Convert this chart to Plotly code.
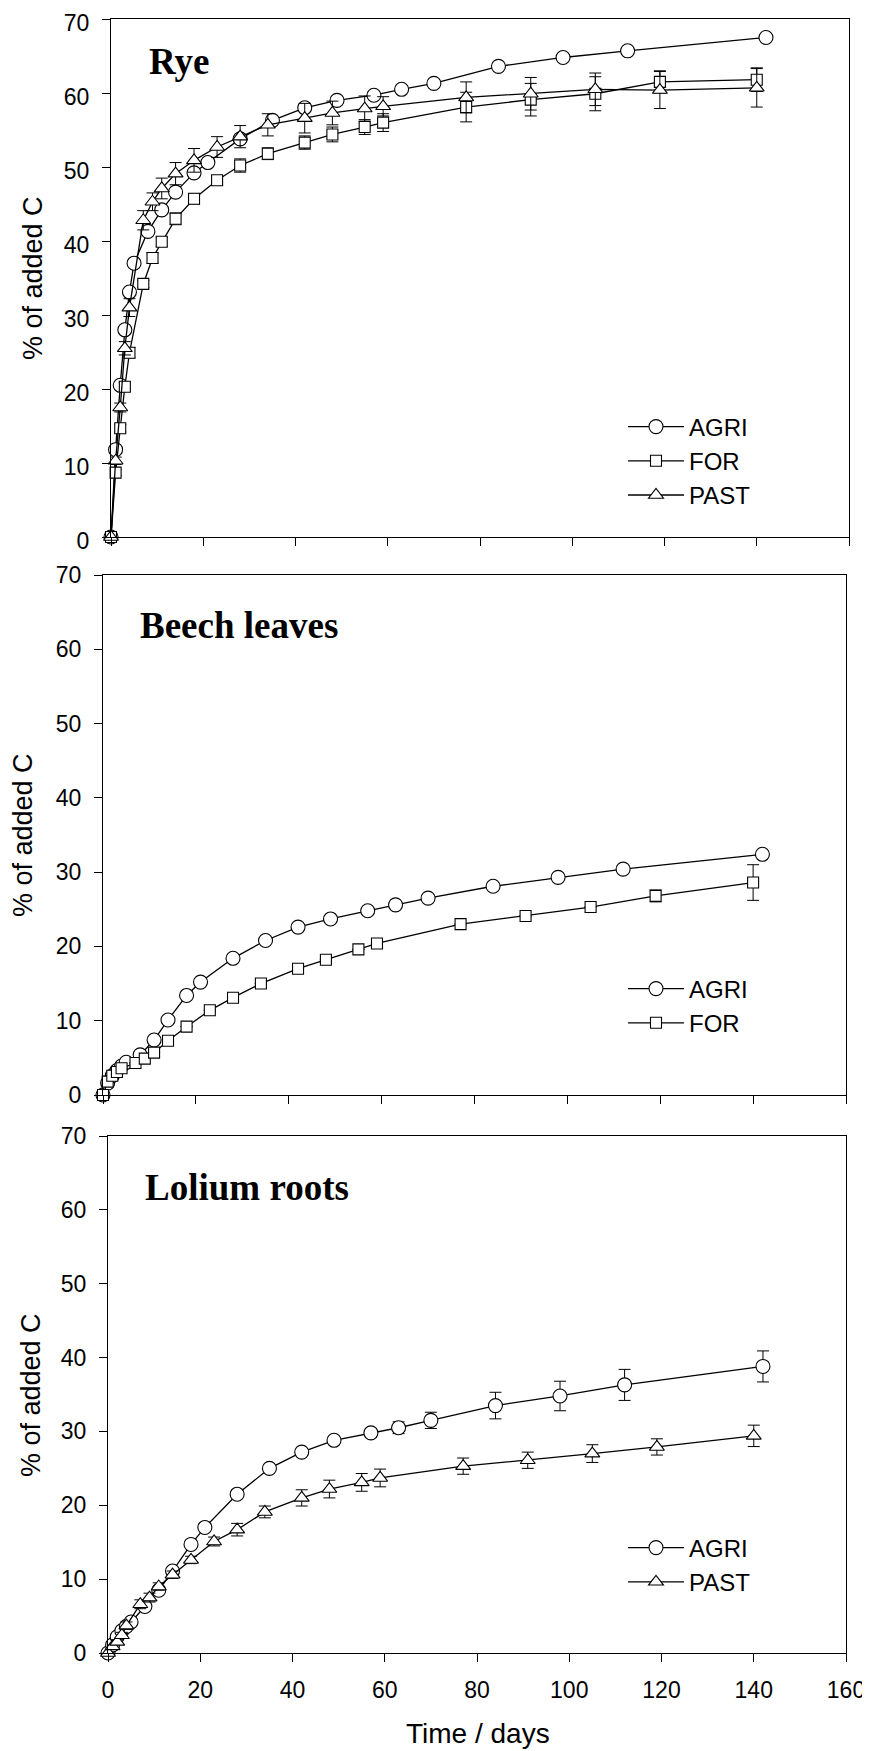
import plotly.graph_objects as go

# ---------------- data ----------------
agri_days = [0, 1, 2, 3, 4, 5, 8, 11, 14, 18, 21, 28, 35, 42, 49, 57, 63, 70, 84, 98, 112, 142]
for_days = [0, 1, 2, 3, 4, 7, 9, 11, 14, 18, 23, 28, 34, 42, 48, 55, 59, 77, 91, 105, 119, 140]
past_days = [0, 1, 2, 3, 4, 7, 9, 11, 14, 18, 23, 28, 34, 42, 48, 55, 59, 77, 91, 105, 119, 140]

# Rye
rye_agri = [0, 11.8, 20.5, 28.0, 33.1, 37.0, 41.3, 44.2, 46.6, 49.2, 50.6, 53.8, 56.3, 58.0, 59.0, 59.7, 60.5, 61.3, 63.6, 64.8, 65.7, 67.5]
rye_for = [0, 8.7, 14.7, 20.3, 24.9, 34.2, 37.7, 39.9, 43.0, 45.7, 48.2, 50.2, 51.8, 53.3, 54.4, 55.4, 56.0, 58.1, 59.1, 59.9, 61.5, 61.8]
rye_for_err = [0, 0.4, 0.5, 0.6, 0.7, 0.5, 0.7, 0.6, 0.8, 0.7, 0.6, 0.9, 0.8, 0.9, 1.0, 1.0, 1.2, 2.0, 2.2, 2.3, 1.5, 1.6]
rye_past = [0, 10.3, 17.5, 25.5, 31.0, 42.8, 45.3, 47.1, 49.1, 50.9, 52.7, 54.1, 55.7, 56.6, 57.3, 57.9, 58.2, 59.4, 59.9, 60.5, 60.4, 60.7]
rye_past_err = [0, 0.5, 0.6, 0.9, 1.2, 1.3, 1.2, 1.4, 1.5, 1.6, 1.4, 1.5, 1.5, 2.0, 1.6, 1.7, 1.3, 2.1, 2.2, 2.2, 2.5, 2.6]

# Beech leaves
beech_agri = [0, 1.6, 2.6, 3.3, 3.9, 4.4, 5.4, 7.4, 10.1, 13.4, 15.2, 18.4, 20.8, 22.6, 23.7, 24.8, 25.6, 26.5, 28.1, 29.3, 30.4, 32.4]
beech_for = [0, 1.8, 2.6, 3.1, 3.6, 4.3, 4.9, 5.7, 7.3, 9.2, 11.4, 13.1, 15.0, 17.0, 18.2, 19.6, 20.4, 23.0, 24.1, 25.3, 26.8, 28.6]
beech_for_err = [0, 0, 0, 0, 0, 0, 0, 0, 0, 0, 0, 0, 0, 0, 0, 0, 0, 0, 0, 0, 0.8, 2.4]

# Lolium roots
lol_agri = [0, 1.1, 2.2, 3.0, 3.6, 4.2, 6.3, 8.5, 11.1, 14.7, 17.0, 21.5, 25.0, 27.2, 28.8, 29.8, 30.5, 31.5, 33.5, 34.8, 36.3, 38.8]
lol_agri_err = [0, 0, 0, 0, 0, 0, 0, 0, 0, 0, 0, 0, 0, 0.3, 0.4, 0.6, 0.8, 1.1, 1.8, 2.0, 2.1, 2.1]
lol_past = [0, 0.9, 1.5, 2.4, 3.7, 6.6, 7.5, 9.0, 10.6, 12.6, 15.1, 16.7, 19.1, 21.0, 22.2, 23.1, 23.7, 25.3, 26.1, 27.0, 27.9, 29.4]
lol_past_err = [0, 0.2, 0.3, 0.4, 0.5, 0.6, 0.6, 0.5, 0.5, 0.5, 0.6, 0.85, 0.8, 1.1, 1.2, 1.2, 1.2, 1.1, 1.1, 1.2, 1.1, 1.45]

panel_titles = ["Rye", "Beech leaves", "Lolium roots"]
y_title = "% of added C"
x_title = "Time / days"
x_ticks = [0, 20, 40, 60, 80, 100, 120, 140, 160]
y_ticks = [0, 10, 20, 30, 40, 50, 60, 70]

# ---------------- figure ----------------
PAGE_W, PAGE_H = 870, 1751
OFF = 8  # default page (body) margin in the browser
W, H = PAGE_W - OFF, PAGE_H - OFF
SANS = "Liberation Sans, Arial, sans-serif"
SERIF = "Liberation Serif, Times New Roman, serif"


def fx(px):  # screen px -> paper fraction
    return (px - OFF) / W


def fy(py):
    return 1 - (py - OFF) / H


symbols = {"AGRI": "circle", "FOR": "square", "PAST": "triangle-up"}
sizes = {"AGRI": 14, "FOR": 11, "PAST": 13}

fig = go.Figure()


def add(name, x, y, err, ax, legend):
    kw = {}
    if err is not None:
        kw["error_y"] = dict(type="data", array=err, visible=True, color="black",
                             thickness=1, width=6)
    fig.add_trace(go.Scatter(
        x=x, y=y, name=name, mode="lines+markers",
        line=dict(color="black", width=1.3),
        marker=dict(symbol=symbols[name], size=sizes[name], color="white",
                    line=dict(color="black", width=1.1)),
        xaxis="x" + ax, yaxis="y" + ax, legend=legend, cliponaxis=False, **kw))


add("AGRI", agri_days, rye_agri, None, "", "legend")
add("FOR", for_days, rye_for, rye_for_err, "", "legend")
add("PAST", past_days, rye_past, rye_past_err, "", "legend")

add("AGRI", agri_days, beech_agri, None, "2", "legend2")
add("FOR", for_days, beech_for, beech_for_err, "2", "legend2")

add("AGRI", agri_days, lol_agri, lol_agri_err, "3", "legend3")
add("PAST", past_days, lol_past, lol_past_err, "3", "legend3")

# panel geometry in screen pixels: (left, right, top, bottom)
panels = [(111, 849, 19, 537), (103, 846, 575, 1095), (108, 846, 1136, 1653)]

layout = dict(template="none", width=W, height=H,
              margin=dict(l=0, r=0, t=0, b=0, pad=0, autoexpand=False),
              paper_bgcolor="white", plot_bgcolor="white",
              font=dict(family=SANS, color="black", size=23), showlegend=True)

annotations = []
for i, (l, r, t, b) in enumerate(panels):
    sfx = "" if i == 0 else str(i + 1)
    xa = dict(domain=[fx(l), fx(r)], range=[0, 160], tickvals=x_ticks,
              showline=True, mirror=True, linecolor="black", linewidth=1,
              ticks="outside", ticklen=8, tickwidth=1, tickcolor="black",
              showgrid=False, zeroline=False, showticklabels=(i == 2),
              tickfont=dict(size=23), ticklabelstandoff=8, automargin=False,
              ticklabeloverflow="allow", anchor="y" + sfx)
    ya = dict(domain=[fy(b), fy(t)], range=[0, 70], tickvals=y_ticks,
              showline=True, mirror=True, linecolor="black", linewidth=1,
              ticks="outside", ticklen=8, tickwidth=1, tickcolor="black",
              showgrid=False, zeroline=False, tickfont=dict(size=23),
              ticklabelstandoff=8, automargin=False, ticklabeloverflow="allow",
              ticklabelshift=(4 if i == 0 else 0), anchor="x" + sfx)
    layout["xaxis" + sfx] = xa
    layout["yaxis" + sfx] = ya

# y-axis titles
ytitle_pos = [(33, 278), (23, 835), (31, 1395)]
for (px, py) in ytitle_pos:
    annotations.append(dict(text=y_title, x=fx(px), y=fy(py), xref="paper", yref="paper",
                            showarrow=False, textangle=-90, font=dict(size=27, family=SANS),
                            xanchor="center", yanchor="middle"))
# x-axis title
annotations.append(dict(text=x_title, x=fx(478), y=fy(1733), xref="paper", yref="paper",
                        showarrow=False, font=dict(size=28, family=SANS),
                        xanchor="center", yanchor="middle"))
# panel titles
ptitle_pos = [(147, 62), (138, 625), (143, 1187)]
for txt, (px, py) in zip(panel_titles, ptitle_pos):
    annotations.append(dict(text="<b>" + txt + "</b>", x=fx(px), y=fy(py), xref="paper",
                            yref="paper", showarrow=False,
                            font=dict(size=37, family=SERIF, color="black"),
                            xanchor="left", yanchor="middle"))
layout["annotations"] = annotations

leg_common = dict(bgcolor="rgba(0,0,0,0)", borderwidth=0, font=dict(size=24, family=SANS),
                  xanchor="left", yanchor="middle", traceorder="normal", itemsizing="trace",
                  itemwidth=56)
layout["legend"] = dict(x=fx(623), y=fy(461), **leg_common)
layout["legend2"] = dict(x=fx(623), y=fy(1006), **leg_common)
layout["legend3"] = dict(x=fx(623), y=fy(1565), **leg_common)

fig.update_layout(**layout)
fig.write_html("out.html")
